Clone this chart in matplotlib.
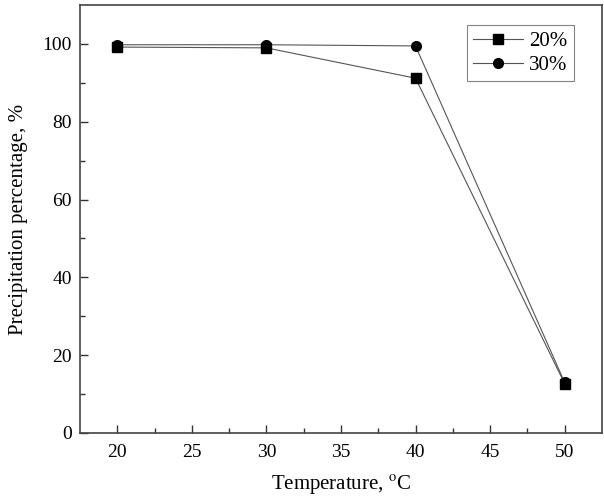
import numpy as np
import matplotlib.pyplot as plt

temperature = [20, 30, 40, 50]
precip_20 = [99.2, 99.0, 91.2, 12.7]
precip_30 = [99.8, 99.8, 99.5, 13.0]

plt.rcParams['font.family'] = ['Liberation Serif', 'DejaVu Serif']
plt.rcParams['mathtext.fontset'] = 'stix'

fig = plt.figure(figsize=(6.04, 4.97), dpi=100)
ax = fig.add_axes([0.1325, 0.1288, 0.864, 0.861])

ax.plot(temperature, precip_20, color='#555555', linewidth=0.8, marker='s',
        markersize=6.5, markerfacecolor='black', markeredgecolor='black', label='20%')
ax.plot(temperature, precip_30, color='#555555', linewidth=0.8, marker='o',
        markersize=7, markerfacecolor='black', markeredgecolor='black', label='30%')

ax.set_xlim(17.5, 52.5)
ax.set_ylim(0, 110)
ax.set_xticks([20, 25, 30, 35, 40, 45, 50])
ax.set_yticks([0, 20, 40, 60, 80, 100])
ax.set_xticks(np.arange(22.5, 50, 5), minor=True)
ax.set_yticks(np.arange(10, 110, 20), minor=True)
ax.tick_params(which='both', direction='in', labelsize=14, color='#333333')
ax.tick_params(which='major', length=6, width=1)
ax.tick_params(which='minor', length=3.5, width=1)
ax.tick_params(axis='x', pad=8)
ax.tick_params(axis='y', pad=6)
for sp in ax.spines.values():
    sp.set_linewidth(1.2)
    sp.set_color('#444444')

ax.set_xlabel('Temperature, $^{\\mathrm{o}}$C', fontsize=15, labelpad=9)
ax.set_ylabel('Precipitation percentage, %', fontsize=15, labelpad=10)

leg = ax.legend(loc='upper right', bbox_to_anchor=(0.966, 0.977), fontsize=15,
                fancybox=False, edgecolor='#666666', handlelength=2.4,
                borderpad=0.3, labelspacing=0.2, handletextpad=0.3)
leg.get_frame().set_linewidth(0.8)

fig.savefig('out.png', dpi=100)
